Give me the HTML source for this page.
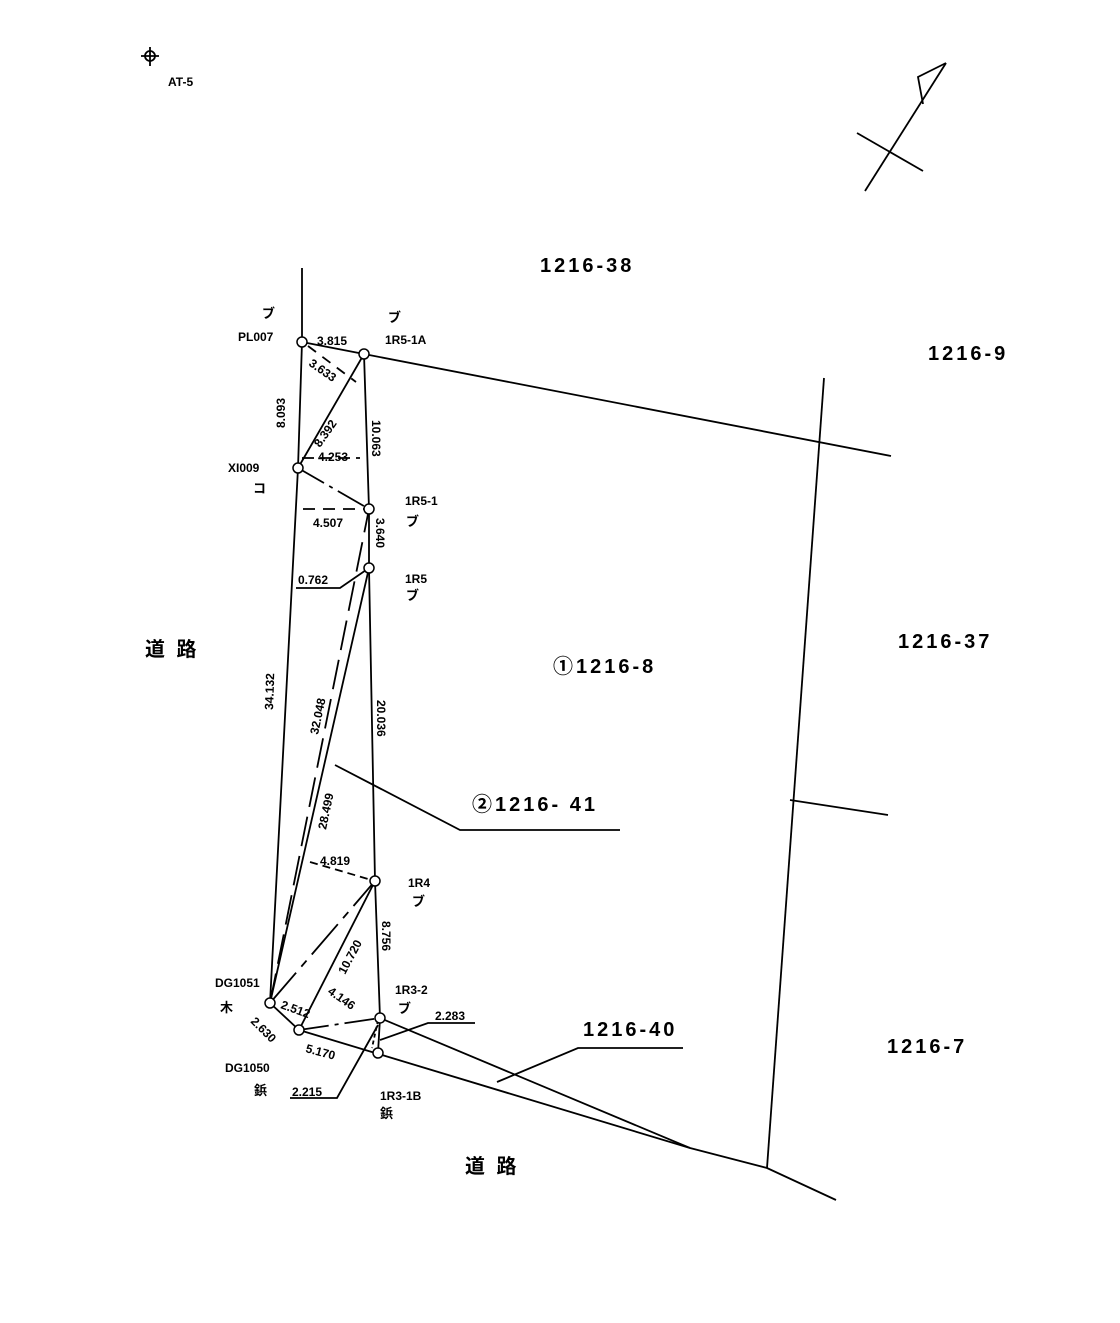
<!DOCTYPE html>
<html><head><meta charset="utf-8"><style>
body{margin:0;background:#fff}
svg text{font-family:"Liberation Sans","Noto Sans CJK JP",sans-serif;fill:#000}
.s{font-size:12px;font-weight:bold}
.m{font-size:13px;font-weight:bold}
.b{font-size:20px;font-weight:bold;letter-spacing:3px}
</style></head><body>
<svg width="1120" height="1318" viewBox="0 0 1120 1318" xmlns="http://www.w3.org/2000/svg">
<g stroke="#000" stroke-width="1.8" fill="none">
<circle cx="150" cy="56" r="5"/><line x1="141" y1="56" x2="159" y2="56"/><line x1="150" y1="47" x2="150" y2="66"/>
<line x1="865" y1="191" x2="946" y2="63"/><polyline points="946,63 918,77 923,104"/><line x1="857" y1="133" x2="923" y2="171"/>
<polyline points="302,268 302,342 298,468 270,1003"/>
<line x1="364" y1="354" x2="891" y2="456"/>
<line x1="302" y1="342" x2="364" y2="354"/>
<line x1="824" y1="378" x2="767" y2="1168"/>
<line x1="790" y1="800" x2="888" y2="815"/>
<polyline points="364,354 369,509 369,568 375,881 380,1018 378,1053"/>
<line x1="298" y1="468" x2="364" y2="354"/>
<line x1="298" y1="468" x2="369" y2="509" stroke-dasharray="30,6,4,6"/>
<line x1="308" y1="346" x2="356" y2="382" stroke-dasharray="10,8"/>
<line x1="303" y1="509" x2="369" y2="509" stroke-dasharray="12,8"/>
<line x1="302" y1="458" x2="360" y2="458" stroke-dasharray="12,6"/>
<line x1="270" y1="1003" x2="369" y2="568"/>
<line x1="270" y1="1003" x2="369" y2="509" stroke-dasharray="30,10"/>
<line x1="270" y1="1003" x2="375" y2="881" stroke-dasharray="40,8,8,8"/>
<line x1="299" y1="1030" x2="375" y2="881"/>
<line x1="270" y1="1003" x2="299" y2="1030"/>
<line x1="299" y1="1030" x2="380" y2="1018" stroke-dasharray="30,6,4,6"/>
<line x1="310" y1="862" x2="375" y2="881" stroke-dasharray="8,5"/>
<line x1="378" y1="1020" x2="372" y2="1048" stroke-dasharray="4,3"/>
<line x1="380" y1="1018" x2="690" y2="1148"/>
<line x1="299" y1="1030" x2="690" y2="1148"/>
<polyline points="690,1148 767,1168 836,1200"/>
<polyline points="335,765 460,830 620,830"/>
<polyline points="497,1082 578,1048 683,1048"/>
<polyline points="296,588 340,588 369,568"/>
<polyline points="290,1098 337,1098 378,1025"/>
<polyline points="380,1040 428,1023 475,1023"/>
</g>
<g stroke="#000" stroke-width="1.5" fill="#fff">
<circle cx="302" cy="342" r="5"/><circle cx="364" cy="354" r="5"/><circle cx="298" cy="468" r="5"/>
<circle cx="369" cy="509" r="5"/><circle cx="369" cy="568" r="5"/><circle cx="375" cy="881" r="5"/>
<circle cx="380" cy="1018" r="5"/><circle cx="378" cy="1053" r="5"/><circle cx="270" cy="1003" r="5"/><circle cx="299" cy="1030" r="5"/>
</g>
<text class="s" x="168" y="86">AT-5</text>
<text class="b" x="540" y="272">1216-38</text>
<text class="b" x="928" y="360">1216-9</text>
<text class="b" x="898" y="648">1216-37</text>
<text class="b" x="553" y="673">①1216-8</text>
<text class="b" x="472" y="811">②1216- 41</text>
<text class="b" x="583" y="1036">1216-40</text>
<text class="b" x="887" y="1053">1216-7</text>
<text class="b" x="145" y="656">道 路</text>
<text class="b" x="465" y="1173">道 路</text>
<text class="s" x="238" y="341">PL007</text><text class="m" x="262" y="318">ブ</text>
<text class="s" x="385" y="344">1R5-1A</text><text class="m" x="388" y="322">ブ</text>
<text class="s" x="228" y="472">XI009</text><text class="m" x="253" y="493">コ</text>
<text class="s" x="405" y="505">1R5-1</text><text class="m" x="406" y="526">ブ</text>
<text class="s" x="405" y="583">1R5</text><text class="m" x="406" y="600">ブ</text>
<text class="s" x="408" y="887">1R4</text><text class="m" x="412" y="906">ブ</text>
<text class="s" x="395" y="994">1R3-2</text><text class="m" x="398" y="1013">ブ</text>
<text class="s" x="380" y="1100">1R3-1B</text><text class="m" x="380" y="1118">鋲</text>
<text class="s" x="215" y="987">DG1051</text><text class="m" x="220" y="1012">木</text>
<text class="s" x="225" y="1072">DG1050</text><text class="m" x="254" y="1095">鋲</text>
<text class="s" x="317" y="345">3.815</text>
<text class="s" x="318" y="461">4.253</text>
<text class="s" x="313" y="527">4.507</text>
<text class="s" x="298" y="584">0.762</text>
<text class="s" x="320" y="865">4.819</text>
<text class="s" x="435" y="1020">2.283</text>
<text class="s" x="292" y="1096">2.215</text>
<text class="s" transform="translate(308,365) rotate(35)">3.633</text>
<text class="s" transform="translate(320,448) rotate(-55)">8.392</text>
<text class="s" transform="translate(285,428) rotate(-90)">8.093</text>
<text class="s" transform="translate(372,420) rotate(90)">10.063</text>
<text class="s" transform="translate(376,518) rotate(90)">3.640</text>
<text class="s" transform="translate(273,710) rotate(-88)">34.132</text>
<text class="s" transform="translate(318,735) rotate(-78)">32.048</text>
<text class="s" transform="translate(326,830) rotate(-78)">28.499</text>
<text class="s" transform="translate(377,700) rotate(90)">20.036</text>
<text class="s" transform="translate(382,921) rotate(90)">8.756</text>
<text class="s" transform="translate(345,975) rotate(-62)">10.720</text>
<text class="s" transform="translate(327,993) rotate(35)">4.146</text>
<text class="s" transform="translate(280,1008) rotate(20)">2.512</text>
<text class="s" transform="translate(250,1022) rotate(45)">2.630</text>
<text class="s" transform="translate(305,1052) rotate(15)">5.170</text>
</svg>
</body></html>
